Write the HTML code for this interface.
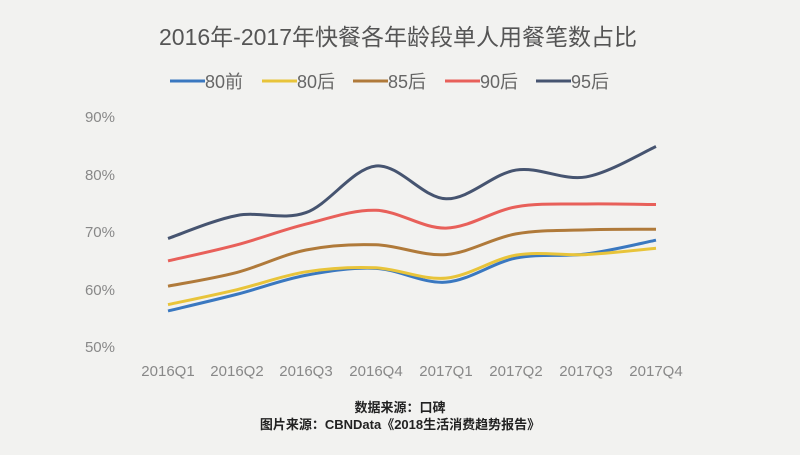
<!DOCTYPE html>
<html><head><meta charset="utf-8"><style>
body{margin:0;width:800px;height:450px;background:#f2f2f0;overflow:hidden;font-family:"Liberation Sans","Noto Sans CJK SC",sans-serif}
</style></head><body>
<svg id="s" width="800" height="450" xmlns="http://www.w3.org/2000/svg" font-family="Liberation Sans, Noto Sans CJK SC, sans-serif">
<rect width="800" height="450" fill="#f2f2f0"/>
<text x="398" y="45" text-anchor="middle" font-size="23" fill="#555">2016年-2017年快餐各年龄段单人用餐笔数占比</text>
<g font-size="18" fill="#666">
<line x1="170" y1="81" x2="205" y2="81" stroke="#3a78c0" stroke-width="3"/><text x="205" y="88">80前</text>
<line x1="262" y1="81" x2="297" y2="81" stroke="#e8c43a" stroke-width="3"/><text x="297" y="88">80后</text>
<line x1="353" y1="81" x2="388" y2="81" stroke="#b07a3a" stroke-width="3"/><text x="388" y="88">85后</text>
<line x1="445" y1="81" x2="480" y2="81" stroke="#e8605a" stroke-width="3"/><text x="480" y="88">90后</text>
<line x1="536" y1="81" x2="571" y2="81" stroke="#465470" stroke-width="3"/><text x="571" y="88">95后</text>
</g>
<g font-size="15" fill="#888" text-anchor="end">
<text x="115" y="122">90%</text><text x="115" y="180">80%</text><text x="115" y="237">70%</text><text x="115" y="295">60%</text><text x="115" y="352">50%</text>
</g>
<g font-size="15" fill="#888" text-anchor="middle">
<text x="168" y="376">2016Q1</text><text x="237" y="376">2016Q2</text><text x="306" y="376">2016Q3</text><text x="376" y="376">2016Q4</text><text x="446" y="376">2017Q1</text><text x="516" y="376">2017Q2</text><text x="586" y="376">2017Q3</text><text x="656" y="376">2017Q4</text>
</g>
<g font-size="13" fill="#222" text-anchor="middle" font-weight="bold">
<text x="400" y="412">数据来源：口碑</text>
<text x="400" y="429">图片来源：CBNData《2018生活消费趋势报告》</text>
</g>
<g id="lines" fill="none" stroke-width="3"></g>
</svg>
<script>
var xs=[168,237,306,376,446,516,586,656];
var d=[["#3a78c0",[56.1,59.0,62.3,63.5,61.1,65.3,66.0,68.4]],
["#e8c43a",[57.2,59.8,62.9,63.6,61.8,65.8,65.9,67.0]],
["#b07a3a",[60.4,62.8,66.7,67.6,65.9,69.5,70.2,70.3]],
["#e8605a",[64.8,67.6,71.2,73.6,70.5,74.2,74.7,74.6]],
["#465470",[68.7,72.7,73.2,81.3,75.6,80.6,79.4,84.7]]];
var g=document.getElementById('lines');
d.forEach(function(s){
var p=s[1].map(function(v,i){return [xs[i],346-(v-50)*5.75];});
var str="M"+p[0][0]+","+p[0][1];
for(var i=0;i<p.length-1;i++){
var p0=p[i>0?i-1:i],p1=p[i],p2=p[i+1],p3=p[i+2<p.length?i+2:i+1];
var t=1/6;
str+=" C"+(p1[0]+(p2[0]-p0[0])*t)+","+(p1[1]+(p2[1]-p0[1])*t)+" "+(p2[0]-(p3[0]-p1[0])*t)+","+(p2[1]-(p3[1]-p1[1])*t)+" "+p2[0]+","+p2[1];
}
var e=document.createElementNS("http://www.w3.org/2000/svg","path");
e.setAttribute("d",str);e.setAttribute("stroke",s[0]);g.appendChild(e);
});
</script>
</body></html>
